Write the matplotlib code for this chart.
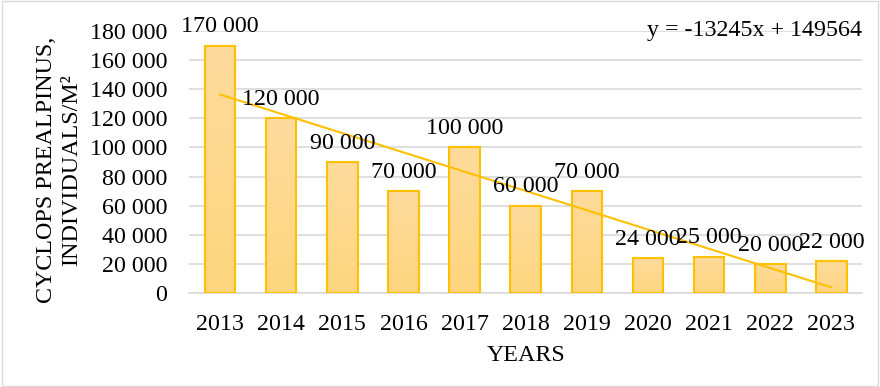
import matplotlib
matplotlib.use("Agg")
import matplotlib.pyplot as plt
import numpy as np
from matplotlib.patches import Rectangle
from matplotlib.colors import LinearSegmentedColormap

years = ["2013", "2014", "2015", "2016", "2017", "2018", "2019", "2020", "2021", "2022", "2023"]
values = [170000, 120000, 90000, 70000, 100000, 60000, 70000, 24000, 25000, 20000, 22000]
value_labels = ["170 000", "120 000", "90 000", "70 000", "100 000", "60 000", "70 000",
                "24 000", "25 000", "20 000", "22 000"]
yticks = [0, 20000, 40000, 60000, 80000, 100000, 120000, 140000, 160000, 180000]
ytick_labels = ["0", "20 000", "40 000", "60 000", "80 000", "100 000", "120 000",
                "140 000", "160 000", "180 000"]
slope = -13245
intercept = 149564
equation = "y = -13245x + 149564"

plt.rcParams['font.family'] = ['Liberation Serif', 'DejaVu Serif']
FS = 17.3

fig = plt.figure(figsize=(8.8, 3.87), dpi=100)
ax = fig.add_axes([0.2153, 0.2429, 0.9795 - 0.2153, 0.92 - 0.2429])

x = np.arange(len(years))

ax.set_yticks(yticks)
ax.set_yticklabels(ytick_labels, fontsize=FS)
ax.set_xticks(x)
ax.set_xticklabels(years, fontsize=FS)
ax.tick_params(axis='both', length=0)
ax.tick_params(axis='x', pad=15)
ax.tick_params(axis='y', pad=16)
ax.grid(axis='y', color='#D9D9D9', linewidth=1.2)
ax.set_axisbelow(True)
for s in ['top', 'right', 'left']:
    ax.spines[s].set_visible(False)
ax.spines['bottom'].set_color('#D9D9D9')
ax.spines['bottom'].set_linewidth(1.2)

bars = ax.bar(x, values, width=0.5, color='none', edgecolor='#FFC000', linewidth=1.5, zorder=3)
grad = np.linspace(0, 1, 256).reshape(-1, 1)
cmap = LinearSegmentedColormap.from_list('g', ['#FFD57E', '#FDDB9C'])
for b in bars:
    bx, by = b.get_x(), b.get_y()
    w, h = b.get_width(), b.get_height()
    im = ax.imshow(grad, extent=[bx, bx + w, by, by + h], origin='lower', cmap=cmap,
                   aspect='auto', zorder=2)
    im.set_clip_path(b)

ax.set_xlim(-0.5, len(years) - 0.5)
ax.set_ylim(0, 180000)

for xi, v, lab in zip(x, values, value_labels):
    ax.annotate(lab, (xi, v), xytext=(0, 6), textcoords='offset points',
                ha='center', va='bottom', fontsize=FS, zorder=5)

trend = slope * (x + 1) + intercept
ax.plot(x, trend, color='#FFC000', linewidth=1.5, zorder=4)

ax.text(1.0, 1.0, equation, transform=ax.transAxes, ha='right', va='center', fontsize=FS)

ax.set_xlabel("YEARS", fontsize=FS, labelpad=7)
fig.text(0.067, 0.56, "CYCLOPS PREALPINUS,\nINDIVIDUALS/M²", rotation=90,
         ha='center', va='center', fontsize=FS, linespacing=1.25)

fig.patches.append(Rectangle((0.002, 0.003), 0.996, 0.994, transform=fig.transFigure,
                             fill=False, edgecolor='#D9D9D9', linewidth=1))

fig.savefig("out.png", dpi=100)
